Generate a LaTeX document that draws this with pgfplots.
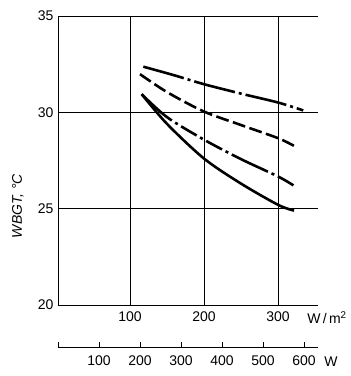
\documentclass[border=0pt]{standalone}
\usepackage{pgfplots}
\pgfplotsset{compat=1.18}
\usepackage{fontspec}
\setmainfont{Liberation Sans}
\begin{document}
\begin{tikzpicture}[x=1pt,y=1pt]
\useasboundingbox (0,0) rectangle (351,376);
\begin{axis}[
  at={(58pt,71pt)}, anchor=south west,
  scale only axis, width=260pt, height=289pt,
  xmin=2.7, xmax=354, ymin=20, ymax=35,
  axis x line=bottom, axis y line=left, axis line style={-, line width=0.9pt},
  xtick={100,200,300}, ytick={20,25,30,35},
  grid=major, major grid style={black, line width=0.8pt},
  major tick length=0pt,
  /pgf/number format/assume math mode=true,
  ticklabel style={font=\fontsize{14}{16}\selectfont},
  xticklabel style={yshift=-3pt},
  yticklabel style={xshift=-1pt},
  clip=false,
]
\addplot[black, line width=2.6pt, smooth, dash pattern=on 42pt off 4pt on 3pt off 4pt]
  coordinates {(118,32.37) (160,31.92) (200,31.46) (250,30.97) (300,30.51) (334,30.1)};
\addplot[black, line width=2.6pt, smooth, dash pattern=on 13pt off 4.5pt]
  coordinates {(113.5,31.98) (150,31.05) (200,30.04) (250,29.34) (300,28.66) (321.6,28.26)};
\addplot[black, line width=2.6pt, smooth, dash pattern=on 40pt off 4pt on 3pt off 4pt on 18pt off 4pt on 3pt off 4pt on 18pt off 4pt on 3pt off 4pt]
  coordinates {(115.8,30.94) (150,29.75) (200,28.58) (250,27.57) (300,26.67) (321.6,26.19)};
\addplot[black, line width=2.6pt, smooth]
  coordinates {(115.8,30.94) (150,29.4) (200,27.6) (250,26.3) (300,25.2) (321.6,24.9)};
\end{axis}
\node[font=\fontsize{14}{16}\selectfont] at (327,58) {W\,/\,m$^{\mathrm{2}}$};
\node[font=\fontsize{14}{16}\selectfont\itshape, rotate=90] at (18,170) {WBGT, °C};
\begin{axis}[
  at={(58pt,29pt)}, anchor=south west,
  scale only axis, width=260pt, height=10pt,
  xmin=0, xmax=634, ymin=0, ymax=1,
  axis x line=bottom, axis y line=none, axis line style={-, line width=0.9pt},
  xtick={0,100,200,300,400,500,600},
  xticklabels={,100,200,300,400,500,600},
  tick align=inside, major tick length=5pt,
  tick style={line width=0.9pt, black},
  /pgf/number format/assume math mode=true,
  ticklabel style={font=\fontsize{14}{16}\selectfont},
  xticklabel style={yshift=-5pt},
]
\addplot[draw=none] coordinates {(0,0) (600,0)};
\end{axis}
\node[font=\fontsize{14}{16}\selectfont] at (331,14) {W};
\end{tikzpicture}
\end{document}
